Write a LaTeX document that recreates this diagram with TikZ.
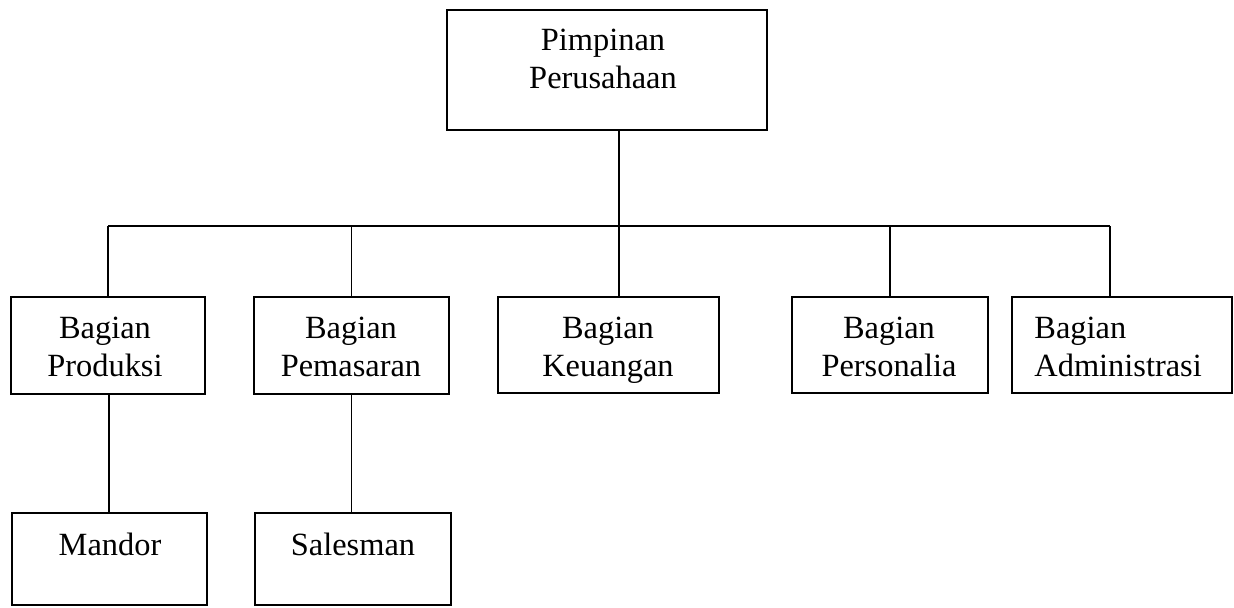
\documentclass[tikz,border=0pt]{standalone}
\usepackage{fontspec}
\setmainfont{Liberation Serif}
\usetikzlibrary{fit}
\begin{document}
\begin{tikzpicture}[x=0.5pt,y=-0.5pt,
  orgbox/.style={draw=black,line width=0.95pt,rectangle,inner sep=0pt},
  conn/.style={draw=black,line width=0.9pt},
  txt/.style={inner sep=0pt,align=center,font=\fontsize{16.2}{18.8}\selectfont},
  txtl/.style={inner sep=0pt,align=left,font=\fontsize{16.2}{18.8}\selectfont}]
\useasboundingbox (0,0) rectangle (1234,607);
% boxes
\node[orgbox,fit={(447,10) (767,130)}] (top) {};
\node[orgbox,fit={(11,297) (205,394)}] (prod) {};
\node[orgbox,fit={(254,297) (449,394)}] (pem) {};
\node[orgbox,fit={(498,297) (719,393)}] (keu) {};
\node[orgbox,fit={(792,297) (988,393)}] (pers) {};
\node[orgbox,fit={(1012,297) (1232,393)}] (adm) {};
\node[orgbox,fit={(12,513) (207,605)}] (mandor) {};
\node[orgbox,fit={(255,513) (451,605)}] (sales) {};
% texts
\node[txt] (ttop) at (603,62) {\strut Pimpinan\\\strut Perusahaan};
\node[txt] (tprod) at (105,350) {\strut Bagian\\\strut Produksi};
\node[txt] (tpem) at (351,350) {\strut Bagian\\\strut Pemasaran};
\node[txt] (tkeu) at (608,350) {\strut Bagian\\\strut Keuangan};
\node[txt] (tpers) at (889,350) {\strut Bagian\\\strut Personalia};
\node[txtl,anchor=west] (tadm) at (1034,350) {\strut Bagian\\\strut Administrasi};
\node[txt] (tmandor) at (110,547.5) {\strut Mandor};
\node[txt] (tsales) at (353,547.5) {\strut Salesman};
% connectors
\coordinate (bus) at (619,226);
\draw[conn] ([xshift=6pt]top.south) -- ([xshift=6pt]top.south |- bus);
\draw[conn] (prod.north |- bus) -- ([xshift=-6pt]adm.north |- bus);
\draw[conn] (prod.north) -- (prod.north |- bus);
\draw[conn] (pem.north) -- (pem.north |- bus);
\draw[conn] ([xshift=5.25pt]keu.north) -- ([xshift=5.25pt]keu.north |- bus);
\draw[conn] (pers.north) -- (pers.north |- bus);
\draw[conn] ([xshift=-6pt]adm.north) -- ([xshift=-6pt]adm.north |- bus);
\draw[conn] ([xshift=0.5pt]prod.south) -- ([xshift=0.5pt]prod.south |- mandor.north);
\draw[conn] (pem.south) -- (pem.south |- sales.north);
\end{tikzpicture}
\end{document}
